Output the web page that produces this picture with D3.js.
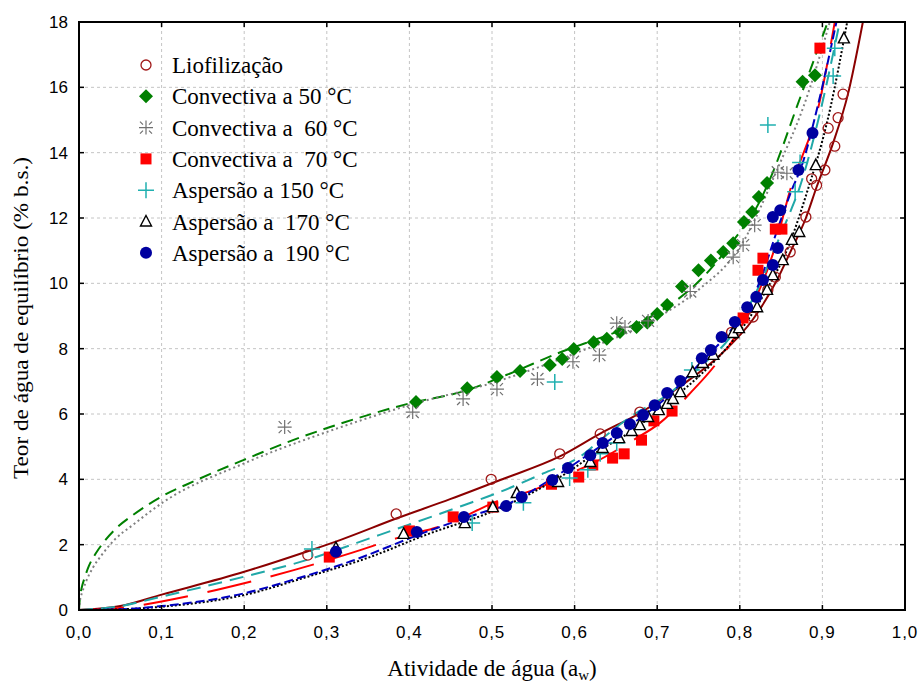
<!DOCTYPE html>
<html>
<head>
<meta charset="utf-8">
<script src="https://cdn.jsdelivr.net/npm/d3@7"></script>
<style>
  body { margin: 0; background: #fff; }
  svg { display: block; }
</style>
</head>
<body>
<div id="chart"></div>
<script>
// ---- data ----
const xTicks = [0, 0.1, 0.2, 0.3, 0.4, 0.5, 0.6, 0.7, 0.8, 0.9, 1.0];
const yTicks = [0, 2, 4, 6, 8, 10, 12, 14, 16, 18];

const seriesNames = [
  'Liofilização',
  'Convectiva a 50 °C',
  'Convectiva a  60 °C',
  'Convectiva a  70 °C',
  'Aspersão a 150 °C',
  'Aspersão a  170 °C',
  'Aspersão a  190 °C'
];

// experimental points [aw, M]
const liofPoints = [[0.277,1.68],[0.384,2.94],[0.499,4.0],[0.582,4.78],[0.631,5.39],[0.679,6.06],[0.79,8.5],
  [0.816,8.97],[0.834,9.8],[0.843,10.19],[0.861,10.96],[0.88,12.03],[0.887,13.2],[0.893,13.0],[0.903,13.47],
  [0.907,14.75],[0.915,14.2],[0.919,15.07],[0.925,15.79]];
const conv50Points = [[0.408,6.37],[0.47,6.79],[0.506,7.13],[0.534,7.32],[0.57,7.5],[0.585,7.68],[0.599,7.99],
  [0.623,8.2],[0.639,8.3],[0.655,8.51],[0.675,8.66],[0.688,8.8],[0.70,9.06],[0.712,9.34],[0.73,9.9],[0.75,10.4],
  [0.765,10.7],[0.78,10.96],[0.792,11.23],[0.805,11.88],[0.815,12.18],[0.823,12.64],[0.833,13.07],[0.876,16.17],[0.891,16.37]];
const conv60Points = [[0.249,5.6],[0.404,6.06],[0.465,6.46],[0.506,6.76],[0.555,7.07],[0.598,7.6],[0.63,7.8],
  [0.651,8.78],[0.661,8.66],[0.689,8.85],[0.74,9.75],[0.792,10.8],[0.804,11.17],[0.818,11.78],[0.846,13.4],[0.857,13.37]];
const conv70Points = [[0.303,1.62],[0.40,2.42],[0.453,2.85],[0.501,3.15],[0.572,3.85],[0.605,4.07],[0.622,4.44],
  [0.646,4.65],[0.66,4.78],[0.681,5.2],[0.696,5.79],[0.718,6.09],[0.804,8.94],[0.822,10.4],[0.828,10.77],
  [0.843,11.66],[0.851,11.66],[0.897,17.2]];
const asp150Points = [[0.282,1.87],[0.476,2.66],[0.538,3.28],[0.576,6.98],[0.594,4.04],[0.616,4.29],[0.631,4.78],
  [0.651,5.11],[0.742,7.35],[0.834,14.85],[0.867,12.8],[0.873,13.7],[0.913,16.35],[0.915,17.2]];
const asp170Points = [[0.311,1.9],[0.393,2.33],[0.467,2.66],[0.501,3.15],[0.530,3.58],[0.58,3.92],[0.619,4.53],
  [0.634,4.96],[0.654,5.26],[0.669,5.48],[0.679,5.66],[0.689,5.91],[0.702,6.12],[0.712,6.31],[0.719,6.46],
  [0.728,6.67],[0.743,7.28],[0.755,7.56],[0.768,7.81],[0.792,8.48],[0.799,8.63],[0.821,9.27],[0.833,9.8],
  [0.84,10.25],[0.852,10.71],[0.863,11.33],[0.872,11.57],[0.892,13.62],[0.926,17.5]];
const asp190Points = [[0.311,1.78],[0.409,2.39],[0.466,2.85],[0.517,3.18],[0.536,3.46],[0.573,3.98],[0.592,4.35],
  [0.619,4.74],[0.634,5.11],[0.651,5.42],[0.667,5.69],[0.683,5.97],[0.697,6.27],[0.712,6.64],[0.728,7.01],
  [0.754,7.71],[0.765,7.96],[0.778,8.36],[0.794,8.82],[0.809,9.27],[0.82,9.58],[0.828,10.1],[0.84,10.56],
  [0.846,11.08],[0.840,12.03],[0.849,12.24],[0.871,13.47],[0.888,14.6]];

// fitted curves [aw, M]
const liofCurve = [[0,0],[0.05,0.12],[0.1,0.47],[0.2,1.17],[0.277,1.8],[0.316,2.14],[0.384,2.8],[0.45,3.4],
  [0.51,3.98],[0.582,4.7],[0.631,5.4],[0.679,6.03],[0.728,6.85],[0.776,7.8],[0.816,8.9],[0.845,10.1],
  [0.861,10.95],[0.88,12.0],[0.893,12.95],[0.913,14.3],[0.931,15.8],[0.949,18.0]];
const conv50Curve = [[0,0],[0.001,0.35],[0.003,0.65],[0.007,1.0],[0.012,1.35],[0.02,1.72],[0.03,2.08],
  [0.045,2.5],[0.065,2.9],[0.102,3.5],[0.138,3.93],[0.199,4.59],[0.259,5.2],[0.304,5.6],[0.401,6.33],
  [0.47,6.73],[0.518,7.2],[0.59,7.96],[0.631,8.33],[0.671,8.72],[0.712,9.28],[0.752,10.1],[0.792,11.3],
  [0.824,12.5],[0.84,13.4],[0.869,15.4],[0.905,17.9]];
const conv60Curve = [[0,0],[0.001,0.25],[0.004,0.55],[0.009,0.9],[0.017,1.3],[0.028,1.7],[0.043,2.15],
  [0.065,2.6],[0.102,3.3],[0.2,4.49],[0.3,5.45],[0.401,6.28],[0.5,6.95],[0.6,7.85],[0.7,8.95],[0.75,9.8],
  [0.8,11.1],[0.849,13.7],[0.877,15.4],[0.909,18]];
const conv70Curve = [[0,0],[0.05,0.06],[0.1,0.26],[0.2,0.82],[0.26,1.22],[0.33,1.75],[0.385,2.2],[0.449,2.66],
  [0.51,3.37],[0.55,3.67],[0.59,4.13],[0.622,4.49],[0.671,5.2],[0.703,5.72],[0.74,6.64],[0.772,7.56],
  [0.808,8.97],[0.84,10.9],[0.861,12.86],[0.897,15.6],[0.915,18]];
const asp150Curve = [[0,0],[0.05,0.12],[0.1,0.41],[0.2,1.02],[0.265,1.45],[0.364,2.3],[0.465,3.2],[0.506,3.58],
  [0.562,4.18],[0.607,4.7],[0.631,5.2],[0.671,5.97],[0.712,6.58],[0.752,7.44],[0.792,8.48],[0.809,9.2],
  [0.824,9.95],[0.843,11.1],[0.858,12.0],[0.872,12.9],[0.895,15.0],[0.921,18]];
const asp170Curve = [[0,0],[0.05,0.02],[0.1,0.1],[0.2,0.46],[0.277,1.02],[0.35,1.6],[0.42,2.3],[0.51,3.12],
  [0.59,4.19],[0.631,4.9],[0.671,5.51],[0.712,6.34],[0.752,7.19],[0.792,8.26],[0.83,9.7],[0.86,11.2],
  [0.879,12.6],[0.909,15.3],[0.93,18]];
const asp190Curve = [[0,0],[0.05,0.02],[0.1,0.12],[0.2,0.51],[0.265,0.97],[0.33,1.5],[0.417,2.36],[0.49,3.0],
  [0.51,3.15],[0.57,3.98],[0.619,4.8],[0.671,5.72],[0.712,6.52],[0.752,7.56],[0.792,8.66],[0.82,9.8],
  [0.849,11.9],[0.862,12.8],[0.875,13.6],[0.895,15.5],[0.917,18]];

const allPoints = [liofPoints, conv50Points, conv60Points, conv70Points, asp150Points, asp170Points, asp190Points];
const allCurves = [liofCurve, conv50Curve, conv60Curve, conv70Curve, asp150Curve, asp170Curve, asp190Curve];

// ---- styles ----
const styles = [
  { marker: 'circleOpen', color: '#a01818', line: '#8b0000', dash: null, width: 2 },
  { marker: 'diamond', color: '#008000', line: '#008000', dash: '12,7', width: 2 },
  { marker: 'star', color: '#707070', line: '#808080', dash: '2,3', width: 2 },
  { marker: 'square', color: '#ff0000', line: '#ff0000', dash: '45,20', width: 2 },
  { marker: 'plus', color: '#20b0b0', line: '#20a8a8', dash: '14,8', width: 2 },
  { marker: 'triangle', color: '#000000', line: '#000000', dash: '2,2', width: 2 },
  { marker: 'circleFilled', color: '#0000a0', line: '#0000c0', dash: '9,4', width: 2 }
];

const width = 920, height = 687;
const margin = { left: 79, right: 15, top: 22, bottom: 77 };
const serif = '"Liberation Serif", "Times New Roman", serif';
const sans = '"Liberation Sans", Arial, sans-serif';

const svg = d3.select('#chart').append('svg')
  .attr('width', width)
  .attr('height', height);

const x = d3.scaleLinear().domain([0, 1]).range([margin.left, width - margin.right]);
const y = d3.scaleLinear().domain([0, 18]).range([height - margin.bottom, margin.top]);

svg.append('defs').append('clipPath').attr('id', 'plot-clip')
  .append('rect')
  .attr('x', x(0)).attr('y', y(18))
  .attr('width', x(1) - x(0)).attr('height', y(0) - y(18));

// grid
const grid = svg.append('g');
grid.selectAll('.gx').data(xTicks.slice(1, -1)).join('line')
  .attr('x1', d => x(d)).attr('x2', d => x(d))
  .attr('y1', y(0)).attr('y2', y(18))
  .attr('stroke', '#c4c4c4').attr('stroke-width', 1).attr('stroke-dasharray', '3,3');
grid.selectAll('.gy').data(yTicks.slice(1, -1)).join('line')
  .attr('x1', x(0)).attr('x2', x(1))
  .attr('y1', d => y(d)).attr('y2', d => y(d))
  .attr('stroke', '#c4c4c4').attr('stroke-width', 1).attr('stroke-dasharray', '3,3');

// curves
const line = d3.line()
  .x(d => x(d[0]))
  .y(d => y(d[1]))
  .curve(d3.curveMonotoneX);

const curveG = svg.append('g').attr('clip-path', 'url(#plot-clip)');
allCurves.forEach((c, i) => {
  curveG.append('path')
    .datum(c)
    .attr('d', line)
    .attr('fill', 'none')
    .attr('stroke', styles[i].line)
    .attr('stroke-width', styles[i].width)
    .attr('stroke-dasharray', styles[i].dash);
});

// markers
function drawMarker(g, type, color, cx, cy) {
  if (type === 'circleOpen') {
    g.append('circle').attr('cx', cx).attr('cy', cy).attr('r', 5)
      .attr('fill', 'none').attr('stroke', color).attr('stroke-width', 1.3);
  } else if (type === 'circleFilled') {
    g.append('circle').attr('cx', cx).attr('cy', cy).attr('r', 6)
      .attr('fill', color);
  } else if (type === 'diamond') {
    const s = 7;
    g.append('path')
      .attr('d', `M${cx},${cy - s}L${cx + s},${cy}L${cx},${cy + s}L${cx - s},${cy}Z`)
      .attr('fill', color);
  } else if (type === 'square') {
    g.append('rect').attr('x', cx - 5.5).attr('y', cy - 5.5).attr('width', 11).attr('height', 11)
      .attr('fill', color);
  } else if (type === 'plus') {
    const s = 8;
    g.append('path')
      .attr('d', `M${cx - s},${cy}H${cx + s}M${cx},${cy - s}V${cy + s}`)
      .attr('stroke', color).attr('stroke-width', 1.5).attr('fill', 'none');
  } else if (type === 'triangle') {
    g.append('path')
      .attr('d', `M${cx},${cy - 6}L${cx + 5.5},${cy + 4.5}L${cx - 5.5},${cy + 4.5}Z`)
      .attr('fill', '#fff').attr('stroke', color).attr('stroke-width', 1.4);
  } else if (type === 'star') {
    const s = 7, a = 3, b = 6;
    g.append('path')
      .attr('d', `M${cx - s},${cy}H${cx + s}M${cx},${cy - s}V${cy + s}` +
        `M${cx - b},${cy - b}L${cx - a},${cy - a}M${cx + a},${cy + a}L${cx + b},${cy + b}` +
        `M${cx + b},${cy - b}L${cx + a},${cy - a}M${cx - a},${cy + a}L${cx - b},${cy + b}`)
      .attr('stroke', color).attr('stroke-width', 1.2).attr('fill', 'none');
  }
}

const markG = svg.append('g').attr('clip-path', 'url(#plot-clip)');
allPoints.forEach((pts, i) => {
  pts.forEach(p => drawMarker(markG, styles[i].marker, styles[i].color, x(p[0]), y(p[1])));
});

// frame
svg.append('rect')
  .attr('x', x(0)).attr('y', y(18))
  .attr('width', x(1) - x(0)).attr('height', y(0) - y(18))
  .attr('fill', 'none').attr('stroke', '#000').attr('stroke-width', 2);

// inward ticks on all four sides
const tickLen = 5;
const tickG = svg.append('g').attr('stroke', '#000').attr('stroke-width', 1.5);
xTicks.forEach(t => {
  tickG.append('line').attr('x1', x(t)).attr('x2', x(t)).attr('y1', y(0)).attr('y2', y(0) - tickLen);
  tickG.append('line').attr('x1', x(t)).attr('x2', x(t)).attr('y1', y(18)).attr('y2', y(18) + tickLen);
});
yTicks.forEach(t => {
  tickG.append('line').attr('x1', x(0)).attr('x2', x(0) + tickLen).attr('y1', y(t)).attr('y2', y(t));
  tickG.append('line').attr('x1', x(1)).attr('x2', x(1) - tickLen).attr('y1', y(t)).attr('y2', y(t));
});

// tick labels
const fmtX = d => d3.format('.1f')(d).replace('.', ',');
svg.append('g').selectAll('text').data(xTicks).join('text')
  .attr('x', d => x(d)).attr('y', y(0) + 28)
  .attr('text-anchor', 'middle')
  .style('font-family', sans)
  .style('font-size', '17px')
  .style('letter-spacing', '1px')
  .text(fmtX);
svg.append('g').selectAll('text').data(yTicks).join('text')
  .attr('x', x(0) - 11).attr('y', d => y(d) + 6)
  .attr('text-anchor', 'end')
  .style('font-family', sans)
  .style('font-size', '17px')
  .text(d => d);

// axis titles
const xTitle = svg.append('text')
  .attr('x', 492).attr('y', 676)
  .attr('text-anchor', 'middle')
  .style('font-family', serif)
  .style('font-size', '23px');
xTitle.append('tspan').text('Atividade de água (a');
xTitle.append('tspan').attr('dy', 4).style('font-size', '15px').text('w');
xTitle.append('tspan').attr('dy', -4).text(')');

svg.append('text')
  .attr('transform', `translate(28,318) rotate(-90)`)
  .attr('text-anchor', 'middle')
  .attr('textLength', 322)
  .attr('lengthAdjust', 'spacingAndGlyphs')
  .style('font-family', serif)
  .style('font-size', '22px')
  .text('Teor de água de equilíbrio (% b.s.)');

// legend
const legend = svg.append('g');
seriesNames.forEach((name, i) => {
  const ly = 65 + i * 31.3;
  drawMarker(legend, styles[i].marker, styles[i].color, 146, ly);
  legend.append('text')
    .attr('x', 172).attr('y', ly + 8)
    .style('font-family', serif)
    .style('font-size', '23px')
    .style('white-space', 'pre')
    .text(name);
});
</script>
</body>
</html>
